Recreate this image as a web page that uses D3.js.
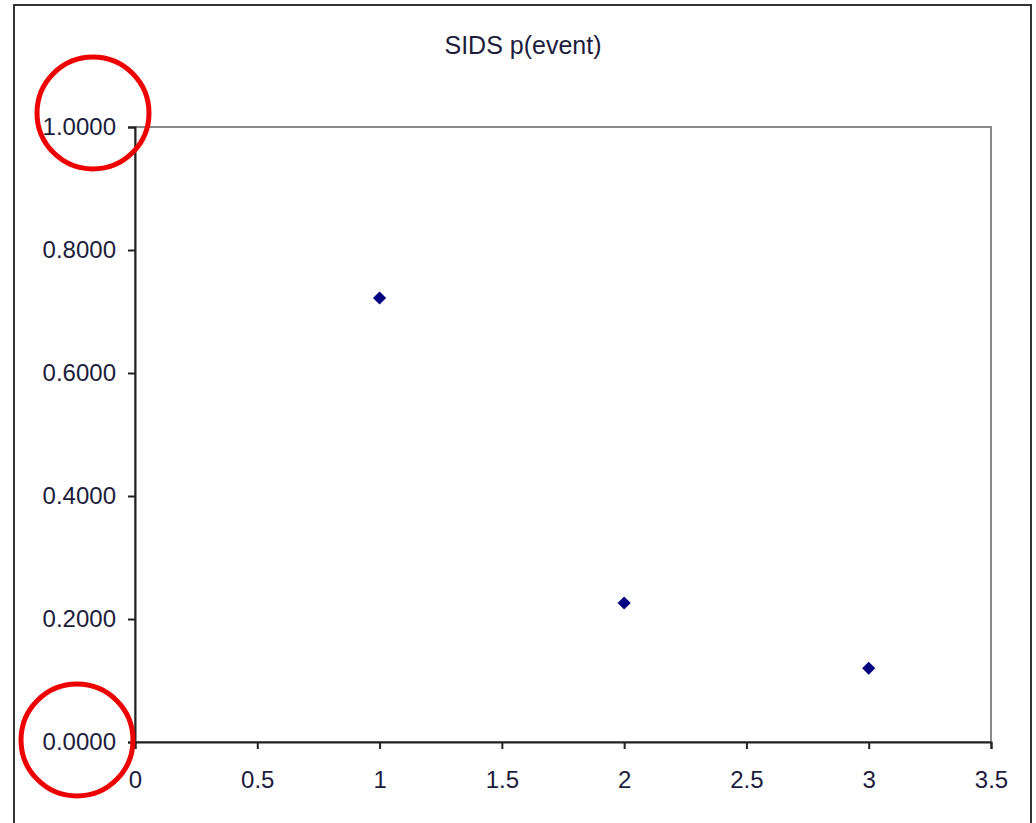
<!DOCTYPE html>
<html>
<head>
<meta charset="utf-8">
<script src="https://cdn.jsdelivr.net/npm/d3@7"></script>
<style>
  html, body { margin: 0; padding: 0; background: #fff; }
  svg { display: block; }
  text { font-family: "Liberation Sans", Arial, sans-serif; fill: #1c1c3c; }
</style>
</head>
<body>
<svg id="chart" width="1036" height="823"></svg>
<script>
const title = "SIDS p(event)";
const xValues = [1, 2, 3];
const yValues = [0.722, 0.226, 0.120];
const xTicks = [0, 0.5, 1, 1.5, 2, 2.5, 3, 3.5];
const yTicks = [0, 0.2, 0.4, 0.6, 0.8, 1.0];
const highlightedYTicks = [1.0, 0.0];

const svg = d3.select("#chart");
const plot = { left: 135, top: 127, right: 991, bottom: 742 };

// outer chart border
svg.append("rect")
  .attr("x", 14).attr("y", 5).attr("width", 1031 - 14).attr("height", 840)
  .attr("fill", "#fff").attr("stroke", "#333").attr("stroke-width", 2);

const x = d3.scaleLinear().domain([0, 3.5]).range([plot.left, plot.right]);
const y = d3.scaleLinear().domain([0, 1]).range([plot.bottom, plot.top]);

// plot area border (top/right grey)
svg.append("rect")
  .attr("x", plot.left).attr("y", plot.top)
  .attr("width", plot.right - plot.left).attr("height", plot.bottom - plot.top)
  .attr("fill", "none").attr("stroke", "#888").attr("stroke-width", 2);

// x axis
const xAxis = svg.append("g")
  .attr("transform", `translate(0,${plot.bottom})`)
  .call(d3.axisBottom(x).tickValues(xTicks).tickSize(7).tickPadding(22)
    .tickFormat(d3.format("")));
xAxis.select(".domain").attr("stroke", "#222").attr("stroke-width", 2);
xAxis.selectAll(".tick line").attr("stroke", "#222").attr("stroke-width", 2);
xAxis.selectAll(".tick text")
  .style("font-family", "'Liberation Sans', Arial, sans-serif")
  .style("font-size", "24px").attr("fill", "#1c1c3c");

// y axis
const yAxis = svg.append("g")
  .attr("transform", `translate(${plot.left},0)`)
  .call(d3.axisLeft(y).tickValues(yTicks).tickSize(7).tickPadding(11)
    .tickFormat(d3.format(".4f")));
yAxis.select(".domain").attr("stroke", "#222").attr("stroke-width", 2);
yAxis.selectAll(".tick line").attr("stroke", "#222").attr("stroke-width", 2);
yAxis.selectAll(".tick text")
  .style("font-family", "'Liberation Sans', Arial, sans-serif")
  .style("font-size", "24px").attr("fill", "#1c1c3c")
  .attr("dx", "-1");

// markers
const diamond = d3.symbol().type(d3.symbolDiamond2).size(110);
svg.append("g").selectAll("path")
  .data(xValues.map((v, i) => [v, yValues[i]]))
  .join("path")
  .attr("d", diamond)
  .attr("transform", d => `translate(${x(d[0])},${y(d[1])})`)
  .attr("fill", "#000080");

// red highlight circles around the first and last y tick labels
const circleOffsets = { 1: { dx: -42, dy: -14 }, 0: { dx: -58, dy: -2 } };
svg.append("g").selectAll("circle")
  .data(highlightedYTicks)
  .join("circle")
  .attr("cx", d => plot.left + circleOffsets[d].dx)
  .attr("cy", d => y(d) + circleOffsets[d].dy)
  .attr("r", 56)
  .attr("fill", "none")
  .attr("stroke", "#ee0000")
  .attr("stroke-width", 5);

// title
svg.append("text")
  .attr("x", 523).attr("y", 54)
  .attr("text-anchor", "middle")
  .style("font-size", "25px")
  .text(title);
</script>
</body>
</html>
